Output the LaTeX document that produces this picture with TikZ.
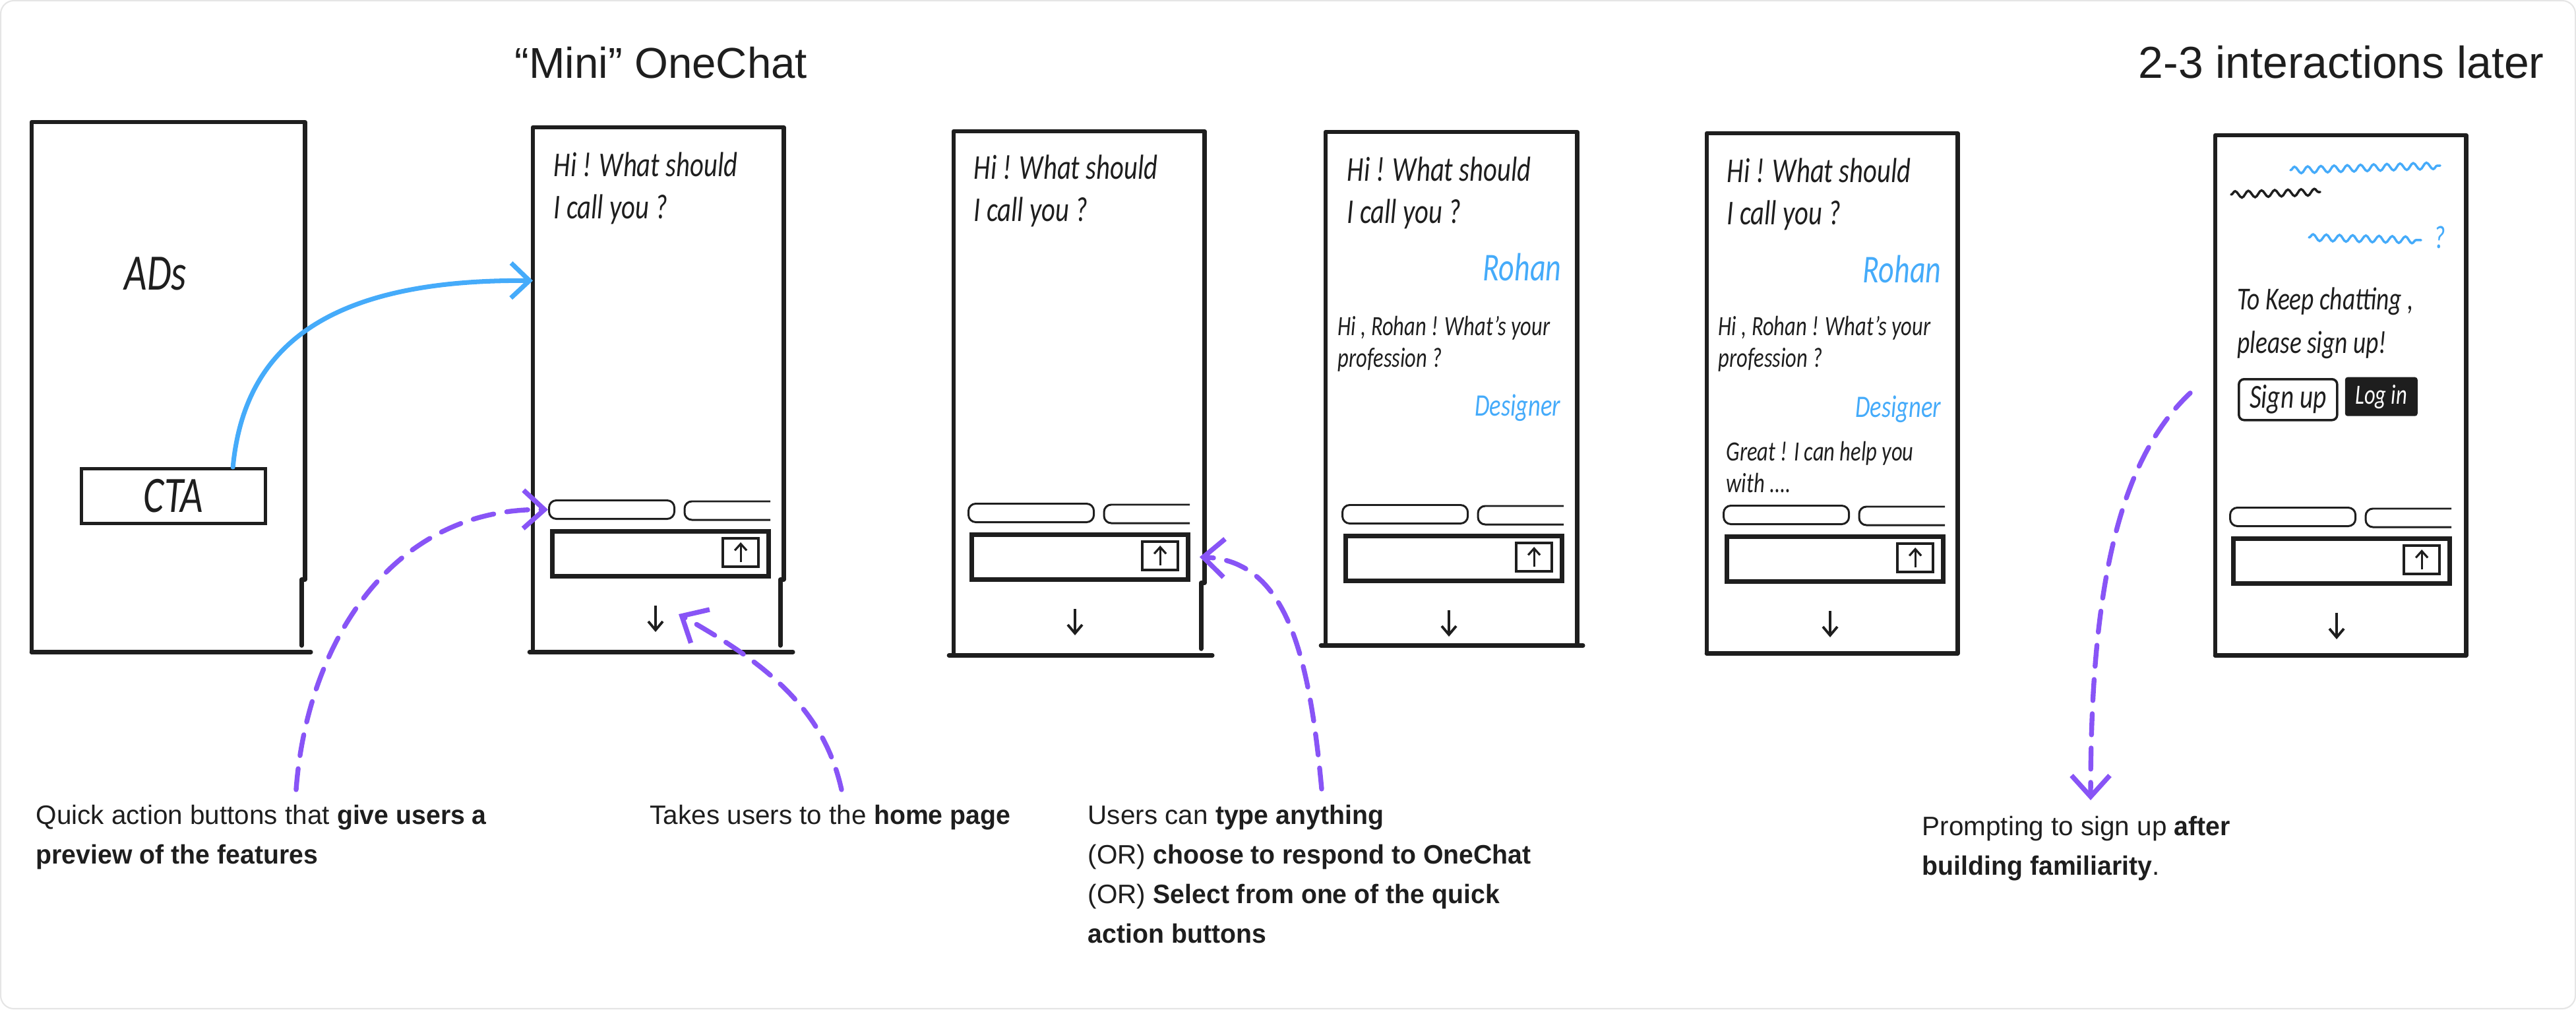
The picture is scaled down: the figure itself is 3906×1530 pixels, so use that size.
\documentclass[tikz,border=0pt]{standalone}
\usepackage{fontspec}
\usepackage{xcolor}
\usepackage{tikz}
\usetikzlibrary{arrows.meta,positioning,calc,decorations.pathmorphing}
\setmainfont{Liberation Sans}[BoldFeatures={FakeStretch=0.97}]
\newfontfamily\handfont[FakeStretch=0.77]{Carlito}
\definecolor{inkblack}{HTML}{1E1E1E}
\definecolor{skyblue}{HTML}{45ABFA}
\definecolor{violetline}{HTML}{8854F6}

% phone outline: name, top left, width, height, left and right overhang of the foot, gap at the foot
\newcommand{\phoneframe}[7]{
\node[phonebody, minimum width=#3cm, minimum height=#4cm] (#1) at (#2) {};
\draw[frameline] (#1.south west) -- (#1.north west) -- (#1.north east) -- ($(#1.south east)+(0,-110)$) -- ++(-#7/2,0) -- ($(#1.south east)+(-#7/2,-#7)$);
\draw[frameline] ($(#1.south west)+(-#5,0)$) -- ($(#1.south east)+(#6,0)$);
}
% chips, input field, send button and home arrow: name, top left of the input field
\newcommand{\phoneui}[2]{
\node[inputbox] (#1box) at (#2) {};
\node[chipbox, anchor=south west] (#1chipa) at ($(#1box.north west)+(-3,-14)$) {};
\node[chipgap, anchor=south west] (#1chipb) at ($(#1box.north west)+(204,-14)$) {};
\draw[chipline] (#1chipb.north east) -- (#1chipb.north west) -- (#1chipb.south west) -- (#1chipb.south east);
\node[sendbox, anchor=north west] (#1send) at ($(#1box.north west)+(260,12)$) {};
\draw[tinyup] ($(#1send.south)+(0,-9)$) -- ($(#1send.north)+(0,8)$);
\coordinate (#1home) at ($(#1box.north west)+(160,136)$);
\draw[tinydown] ($(#1home)+(0,-20)$) -- ($(#1home)+(0,20)$);
}

\begin{document}
\begin{tikzpicture}[
x=0.01cm, y=-0.01cm,
sheet/.style={draw=black!10, line width=0.6pt, rounded corners=0.2cm},
phonebody/.style={anchor=north west, inner sep=0pt, outer sep=0pt},
frameline/.style={draw=inkblack, line width=1.9pt, line cap=round, line join=round},
inputbox/.style={draw=inkblack, line width=1.9pt, anchor=north west, inner sep=0pt, minimum width=3.28cm, minimum height=0.68cm},
chipbox/.style={draw=inkblack, line width=0.85pt, rounded corners=0.11cm, inner sep=0pt, minimum width=1.9cm, minimum height=0.28cm},
chipgap/.style={inner sep=0pt, outer sep=0pt, minimum width=1.3cm, minimum height=0.28cm},
chipline/.style={draw=inkblack, line width=0.85pt, rounded corners=0.11cm},
sendbox/.style={draw=inkblack, line width=1.2pt, inner sep=0pt, minimum width=0.54cm, minimum height=0.43cm},
tinyup/.style={draw=inkblack, line width=0.9pt, -{Straight Barb[length=0.1cm,width=0.18cm]}},
tinydown/.style={draw=inkblack, line width=1.1pt, -{Straight Barb[length=0.13cm,width=0.22cm]}},
ctabox/.style={draw=inkblack, line width=1.4pt, inner sep=0pt, minimum width=2.79cm, minimum height=0.83cm},
bluelink/.style={draw=skyblue, line width=2pt, line cap=round, -{Straight Barb[length=0.28cm,width=0.53cm]}},
tiplink/.style={draw=violetline, line width=2.1pt, line cap=round, dash pattern=on 0.32cm off 0.2cm, -{Straight Barb[length=0.32cm,width=0.58cm]}},
headline/.style={text=inkblack, inner sep=0pt, anchor=base west, font=\fontsize{18.6pt}{23pt}\selectfont},
caption/.style={text=inkblack, inner sep=0pt, anchor=north west, align=left, font=\fontsize{11.5pt}{17.07pt}\selectfont},
handlarge/.style={text=inkblack, inner sep=0pt, anchor=west, align=left, font=\handfont\itshape\fontsize{15pt}{18.2pt}\selectfont},
handsmall/.style={text=inkblack, inner sep=0pt, anchor=west, align=left, font=\handfont\itshape\fontsize{12pt}{13.7pt}\selectfont},
handmedium/.style={text=inkblack, inner sep=0pt, anchor=west, align=left, font=\handfont\itshape\fontsize{13.8pt}{18.8pt}\selectfont},
handtitle/.style={text=inkblack, inner sep=0pt, font=\handfont\itshape\fontsize{22pt}{24pt}\selectfont},
handblue/.style={text=skyblue, inner sep=0pt, anchor=east, font=\handfont\itshape\fontsize{17pt}{20pt}\selectfont},
handjob/.style={text=skyblue, inner sep=0pt, anchor=east, font=\handfont\itshape\fontsize{13.5pt}{18pt}\selectfont},
squiggle/.style={line width=1pt, line cap=round, decorate, decoration={snake, segment length=0.2cm, amplitude=0.05cm}}
]
\useasboundingbox (0,0) rectangle (3906,1530);
\draw[sheet] (1,1) rectangle (3905,1529);

% headings
\node[headline] (minihead) at (780,118) {“Mini” OneChat};
\node[headline, font=\fontsize{19.3pt}{23pt}\selectfont] (laterhead) at (3242,118) {2-3 interactions later};

% ad screen
\phoneframe{adphone}{48,185}{4.14}{8.03}{0}{9}{10}
\node[handtitle] (adslabel) at (236,415) {ADs};
\node[ctabox, handtitle] (cta) at (263,752) {CTA\hspace{0.2cm}};

% chat screens
\phoneframe{minione}{808,193}{3.80}{7.95}{5}{14}{10}
\phoneui{minione}{834,802}
\node[handlarge] (minionehi) at (839,285) {Hi ! What should\\I call you ?};

\phoneframe{minitwo}{1446,199}{3.80}{7.94}{7}{12}{10}
\phoneui{minitwo}{1470,807}
\node[handlarge] (minitwohi) at (1476,289) {Hi ! What should\\I call you ?};

\phoneframe{replyone}{2010,200}{3.81}{7.78}{7}{9}{0}
\phoneui{replyone}{2037,809}
\node[handlarge] (replyonehi) at (2042,292) {Hi ! What should\\I call you ?};
\node[handblue] (replyonename) at (2368,405) {Rohan};
\node[handsmall] (replyoneask) at (2028,521) {Hi , Rohan ! What’s your\\profession ?};
\node[handjob] (replyonejob) at (2367,618) {Designer};

\phoneframe{replytwo}{2588,202}{3.80}{7.88}{0}{0}{0}
\phoneui{replytwo}{2615,810}
\node[handlarge] (replytwohi) at (2618,294) {Hi ! What should\\I call you ?};
\node[handblue] (replytwoname) at (2944,408) {Rohan};
\node[handsmall] (replytwoask) at (2605,521) {Hi , Rohan ! What’s your\\profession ?};
\node[handjob] (replytwojob) at (2944,620) {Designer};
\node[handsmall] (replytwogreat) at (2617,708) {Great ! I can help you\\with ....};

% sign up screen
\phoneframe{gate}{3359,205}{3.80}{7.88}{0}{0}{0}
\phoneui{gate}{3383,813}
\draw[squiggle, skyblue] (3473,258) -- (3700,251);
\draw[squiggle, inkblack] (3383,295) -- (3518,291);
\draw[squiggle, skyblue] (3501,360) -- (3671,364);
\node[handblue, anchor=center, font=\handfont\itshape\fontsize{14pt}{16pt}\selectfont] (gatemark) at (3699,360) {?};
\node[handmedium] (gatekeep) at (3392,490) {To Keep chatting ,\\please sign up!};
\node[draw=inkblack, line width=1pt, rounded corners=0.08cm, handsmall, anchor=north west, align=center, font=\handfont\itshape\fontsize{14.5pt}{16pt}\selectfont, minimum width=1.49cm, minimum height=0.62cm] (signup) at (3393,573) {Sign up};
\node[fill=inkblack, handsmall, text=white, rounded corners=0.04cm, anchor=north west, align=center, minimum width=1.1cm, minimum height=0.59cm] (login) at (3555,571) {Log in};

% captions
\node[caption] (quicktext) at (54,1219) {Quick action buttons that \textbf{give users a}\\\textbf{preview of the features}};
\node[caption] (hometext) at (985,1219) {Takes users to the \textbf{home page}};
\node[caption] (typetext) at (1649,1219) {Users can \textbf{type anything}\\(OR) \textbf{choose to respond to OneChat}\\(OR) \textbf{Select from one of the quick}\\\textbf{action buttons}};
\node[caption] (prompttext) at (2914,1236) {Prompting to sign up \textbf{after}\\\textbf{building familiarity}.};

% free ends above the captions
\coordinate (quickfoot) at (449,1197);
\coordinate (homefoot) at (1276,1197);
\coordinate (typefoot) at (2004,1196);
\coordinate (promptfoot) at (3170,1213);

% connectors
\draw[bluelink] (cta.26) .. controls (370,530) and (490,423) .. (minione.139);
\draw[tiplink] (quickfoot) .. controls (465,980) and (590,770) .. (minionechipa.west);
\draw[tiplink] (homefoot) .. controls (1250,1080) and (1170,1010) .. ($(minionehome)+(35,-7)$);
\draw[tiplink] (typefoot) .. controls (1985,990) and (1950,850) .. ($(minitwobox.east)+(14,0)$);
\draw[tiplink] ($(signup.west)+(-72,-10)$) .. controls (3210,700) and (3170,900) .. (promptfoot);
\end{tikzpicture}
\end{document}
